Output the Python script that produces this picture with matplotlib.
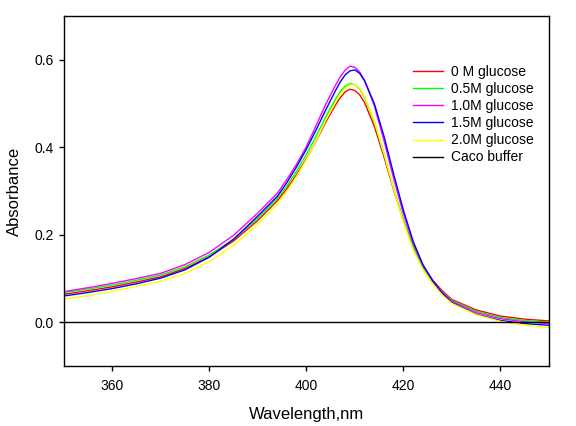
import matplotlib
matplotlib.use('Agg')
import matplotlib.pyplot as plt

plt.rcParams['font.family'] = ['Liberation Sans', 'DejaVu Sans']

# Wavelength grid (nm)
wavelength = [350, 355, 360, 365, 370, 375, 380, 385, 390, 394, 396, 398, 400,
              402, 404, 406, 407, 408, 409, 410, 411, 412, 414, 416, 418, 420,
              422, 424, 426, 428, 430, 435, 440, 445, 450]

# Absorbance readings for each glucose concentration
abs_0M = [0.064, 0.072, 0.081, 0.092, 0.104, 0.123, 0.150, 0.186, 0.233, 0.278,
          0.306, 0.338, 0.374, 0.415, 0.458, 0.497, 0.514, 0.527, 0.533, 0.530,
          0.520, 0.502, 0.448, 0.378, 0.302, 0.232, 0.172, 0.128, 0.097, 0.072,
          0.052, 0.028, 0.014, 0.007, 0.003]
abs_05M = [0.068, 0.076, 0.085, 0.096, 0.108, 0.127, 0.154, 0.190, 0.238, 0.283,
           0.312, 0.346, 0.384, 0.426, 0.470, 0.510, 0.528, 0.540, 0.546, 0.543,
           0.533, 0.514, 0.458, 0.385, 0.306, 0.233, 0.172, 0.126, 0.094, 0.069,
           0.050, 0.025, 0.011, 0.004, 0.000]
abs_10M = [0.070, 0.079, 0.089, 0.100, 0.112, 0.132, 0.160, 0.199, 0.250, 0.295,
           0.327, 0.362, 0.402, 0.450, 0.499, 0.542, 0.562, 0.577, 0.586, 0.583,
           0.572, 0.553, 0.495, 0.415, 0.328, 0.248, 0.180, 0.130, 0.095, 0.068,
           0.048, 0.022, 0.008, 0.001, -0.003]
abs_15M = [0.060, 0.068, 0.077, 0.088, 0.101, 0.120, 0.149, 0.190, 0.243, 0.288,
           0.320, 0.356, 0.396, 0.440, 0.486, 0.530, 0.550, 0.566, 0.575, 0.577,
           0.569, 0.552, 0.500, 0.425, 0.338, 0.256, 0.185, 0.132, 0.095, 0.066,
           0.045, 0.018, 0.004, -0.003, -0.007]
abs_20M = [0.053, 0.061, 0.071, 0.082, 0.094, 0.112, 0.139, 0.176, 0.225, 0.270,
           0.300, 0.334, 0.372, 0.416, 0.462, 0.503, 0.522, 0.535, 0.543, 0.543,
           0.535, 0.517, 0.460, 0.385, 0.304, 0.229, 0.166, 0.120, 0.087, 0.062,
           0.043, 0.017, 0.002, -0.007, -0.012]
buffer_x = [350, 450]
buffer_y = [0.0, 0.0]

fig = plt.figure(figsize=(5.76, 4.26), dpi=100)
ax = fig.add_axes([0.111, 0.141, 0.842, 0.821])

lw = 1.0
ax.plot(wavelength, abs_0M, color='#ff0000', lw=lw, label='0 M glucose')
ax.plot(wavelength, abs_05M, color='#00ff00', lw=lw, label='0.5M glucose')
ax.plot(wavelength, abs_10M, color='#ff00ff', lw=lw, label='1.0M glucose')
ax.plot(wavelength, abs_15M, color='#0000ff', lw=lw, label='1.5M glucose')
ax.plot(wavelength, abs_20M, color='#ffff00', lw=lw, label='2.0M glucose')
ax.plot(buffer_x, buffer_y, color='black', lw=lw, label='Caco buffer')

ax.set_xlim(350, 450)
ax.set_ylim(-0.1, 0.7)
ax.set_xticks([360, 380, 400, 420, 440])
ax.set_yticks([0.0, 0.2, 0.4, 0.6])
ax.set_yticklabels(['0.0', '0.2', '0.4', '0.6'])
ax.tick_params(direction='out', length=3.6, width=1, labelsize=10, colors='black')
ax.tick_params(axis='x', pad=6)
ax.tick_params(axis='y', pad=4)
for s in ax.spines.values():
    s.set_linewidth(1.0)

ax.set_xlabel('Wavelength,nm', fontsize=12, labelpad=10)
ax.set_ylabel('Absorbance', fontsize=12, labelpad=9)

ax.legend(loc='upper left', bbox_to_anchor=(0.72, 0.86), frameon=False,
          fontsize=10, handlelength=2.15, handletextpad=0.58, labelspacing=0.22,
          borderpad=0, borderaxespad=0)

plt.savefig('out.png', dpi=100)
